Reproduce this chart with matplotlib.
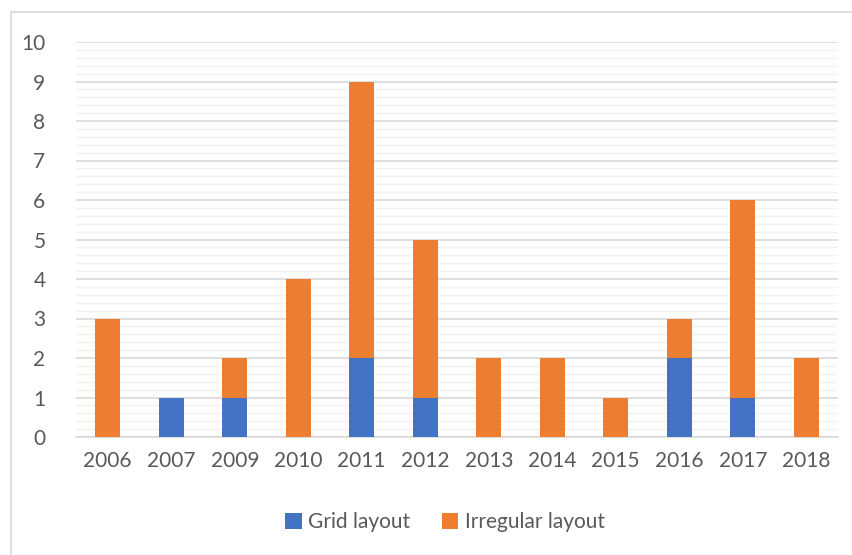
import matplotlib.pyplot as plt
import numpy as np
from matplotlib.patches import Rectangle

years = ['2006', '2007', '2009', '2010', '2011', '2012', '2013', '2014', '2015', '2016', '2017', '2018']
grid_layout = [0, 1, 1, 0, 2, 1, 0, 0, 0, 2, 1, 0]
irregular_layout = [3, 0, 1, 4, 7, 4, 2, 2, 1, 1, 5, 2]

plt.rcParams['font.family'] = ['Lato', 'DejaVu Sans']
txt = '#595959'

fig = plt.figure(figsize=(8.52, 5.55), dpi=100)
ax = fig.add_axes([76 / 852, 1 - 437 / 555, 762 / 852, 395 / 555])

# chart border (cut off on the right and bottom)
fig.patches.append(Rectangle((11 / 852, -0.02), 1.0, 1 - 12 / 555 + 0.02,
                             transform=fig.transFigure, fill=False,
                             edgecolor='#D9D9D9', linewidth=1.2))

x = np.arange(len(years))
ax.bar(x, grid_layout, width=0.39, color='#4472C4', label='Grid layout', zorder=3)
ax.bar(x, irregular_layout, width=0.39, bottom=grid_layout, color='#ED7D31',
       label='Irregular layout', zorder=3)

ax.set_xlim(-0.5, len(years) - 0.5)
ax.set_ylim(0, 10)
ax.set_yticks(np.arange(0, 11, 1))
ax.set_yticks(np.arange(0, 10.01, 0.2), minor=True)
ax.grid(axis='y', which='major', color='#D9D9D9', linewidth=1.2, zorder=1)
ax.grid(axis='y', which='minor', color='#F2F2F2', linewidth=1.0, zorder=0)
ax.set_xticks(x)
ax.set_xticklabels(years)
ax.tick_params(axis='both', which='both', length=0, labelsize=15, colors=txt)
ax.tick_params(axis='x', pad=10)
ax.tick_params(axis='y', pad=22)
for s in ['top', 'right', 'left']:
    ax.spines[s].set_visible(False)
ax.spines['bottom'].set_color('#D9D9D9')
ax.spines['bottom'].set_linewidth(1.2)

fig.legend(loc='center', bbox_to_anchor=(445 / 852, 1 - 522 / 555), ncol=2,
           frameon=False, fontsize=15, labelcolor=txt, handlelength=0.8,
           handleheight=0.8, handletextpad=0.3, columnspacing=1.5)

fig.savefig('out.png', dpi=100, facecolor='white')
